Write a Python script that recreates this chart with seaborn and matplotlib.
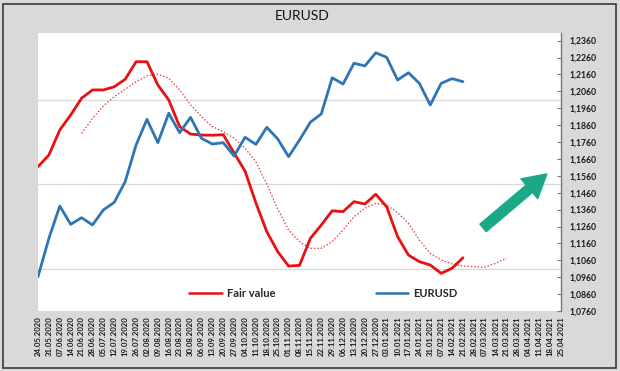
import numpy as np
import pandas as pd
import matplotlib
matplotlib.use("Agg")
import matplotlib.pyplot as plt
import seaborn as sns
from matplotlib.patches import Rectangle

dates = ["24.05.2020", "31.05.2020", "07.06.2020", "14.06.2020", "21.06.2020", "28.06.2020",
         "05.07.2020", "12.07.2020", "19.07.2020", "26.07.2020", "02.08.2020", "09.08.2020",
         "16.08.2020", "23.08.2020", "30.08.2020", "06.09.2020", "13.09.2020", "20.09.2020",
         "27.09.2020", "04.10.2020", "11.10.2020", "18.10.2020", "25.10.2020", "01.11.2020",
         "08.11.2020", "15.11.2020", "22.11.2020", "29.11.2020", "06.12.2020", "13.12.2020",
         "20.12.2020", "27.12.2020", "03.01.2021", "10.01.2021", "17.01.2021", "24.01.2021",
         "31.01.2021", "07.02.2021", "14.02.2021", "21.02.2021", "28.02.2021", "07.03.2021",
         "14.03.2021", "21.03.2021", "28.03.2021", "04.04.2021", "11.04.2021", "18.04.2021",
         "25.04.2021"]

fair_value = [1.1614, 1.1683, 1.1831, 1.1920, 1.2019, 1.2068, 1.2068, 1.2087, 1.2131, 1.2235,
              1.2235, 1.2097, 1.2009, 1.1851, 1.1807, 1.1801, 1.1800, 1.1803, 1.1695, 1.1588,
              1.1399, 1.1229, 1.1111, 1.1026, 1.1030, 1.1190, 1.1269, 1.1353, 1.1348, 1.1407,
              1.1393, 1.1451, 1.1377, 1.1200, 1.1091, 1.1052, 1.1032, 1.0983, 1.1013, 1.1075]

eurusd = [1.0963, 1.1190, 1.1381, 1.1273, 1.1312, 1.1269, 1.1358, 1.1403, 1.1525, 1.1742,
          1.1894, 1.1756, 1.1930, 1.1815, 1.1906, 1.1782, 1.1748, 1.1756, 1.1677, 1.1788,
          1.1746, 1.1847, 1.1778, 1.1673, 1.1772, 1.1877, 1.1926, 1.2140, 1.2103, 1.2226,
          1.2210, 1.2288, 1.2261, 1.2127, 1.2170, 1.2107, 1.1979, 1.2107, 1.2135, 1.2117]

fair_value_trend = [np.nan, np.nan, np.nan, np.nan,
                    1.1811, 1.1900, 1.1973, 1.2028, 1.2072, 1.2117, 1.2151, 1.2161, 1.2137,
                    1.2068, 1.1979, 1.1910, 1.1851, 1.1821, 1.1782, 1.1723, 1.1642, 1.1511,
                    1.1364, 1.1239, 1.1170, 1.1131, 1.1131, 1.1170, 1.1239, 1.1318, 1.1368,
                    1.1397, 1.1387, 1.1342, 1.1279, 1.1180, 1.1101, 1.1062, 1.1038, 1.1026,
                    1.1022, 1.1019, 1.1042, 1.1072]

y_ticks = [1.0760, 1.0860, 1.0960, 1.1060, 1.1160, 1.1260, 1.1360, 1.1460, 1.1560,
           1.1660, 1.1760, 1.1860, 1.1960, 1.2060, 1.2160, 1.2260, 1.2360]

sns.set_theme(style="white")
plt.rcParams['font.family'] = ['Lato', 'DejaVu Sans']

BG = '#d9d9d9'
fig = plt.figure(figsize=(6.2, 3.71), dpi=100, facecolor=BG)
ax = fig.add_axes([38 / 620, 60 / 371, (561 - 38) / 620, (311 - 33) / 371])
ax.set_facecolor('white')

df_fv = pd.DataFrame({'x': np.arange(len(fair_value)), 'y': fair_value})
df_eu = pd.DataFrame({'x': np.arange(len(eurusd)), 'y': eurusd})
df_tr = pd.DataFrame({'x': np.arange(len(fair_value_trend)), 'y': fair_value_trend}).dropna()

sns.lineplot(data=df_tr, x='x', y='y', ax=ax, color='#d9413c', linewidth=0.9,
             linestyle=(0, (1.2, 1.5)), estimator=None)
sns.lineplot(data=df_fv, x='x', y='y', ax=ax, color='#e81010', linewidth=2.0,
             estimator=None, label='Fair value')
sns.lineplot(data=df_eu, x='x', y='y', ax=ax, color='#2e75b6', linewidth=2.0,
             estimator=None, label='EURUSD')

ax.set_xlim(0, len(dates) - 1)
ax.set_ylim(1.0760, 1.2405)
ax.set_xlabel('')
ax.set_ylabel('')

ax.set_xticks(np.arange(len(dates)))
ax.set_xticklabels(dates, rotation=90, fontsize=5.6, fontweight='bold', color='#1a1a1a')
ax.tick_params(axis='x', length=0, pad=4)

ax.yaxis.tick_right()
ax.set_yticks(y_ticks)
ax.set_yticklabels([f"{v:.4f}".replace('.', ',') for v in y_ticks],
                   fontsize=6.2, fontweight='bold', color='#1a1a1a')
ax.tick_params(axis='y', which='major', direction='in', length=3, width=0.8,
               color='#8a6d6d', pad=6, right=True, left=False)

grid_levels = np.arange(1.1010, 1.2400, 0.0250)
ax.set_yticks(grid_levels, minor=True)
ax.tick_params(axis='y', which='minor', length=0)
ax.grid(False)
ax.grid(True, which='minor', axis='y', color='#d9d9d9', linewidth=0.9)

for s in ['top', 'left', 'bottom']:
    ax.spines[s].set_visible(False)
ax.spines['right'].set_color('#8a6d6d')
ax.spines['right'].set_linewidth(1.0)

leg = ax.legend(loc='center', bbox_to_anchor=(0.546, 0.064), ncol=2, frameon=False,
                handlelength=2.9, columnspacing=9.0, handletextpad=0.5,
                prop={'family': 'Lato', 'weight': 'bold', 'size': 8})
for line in leg.get_lines():
    line.set_linewidth(1.8)

ax.annotate('', xy=(0.973, 0.493), xytext=(0.851, 0.299), xycoords='axes fraction',
            textcoords='axes fraction',
            arrowprops=dict(arrowstyle='simple,head_length=0.75,head_width=0.85,tail_width=0.32',
                            color='#1aa889', mutation_scale=22, shrinkA=0, shrinkB=0,
                            capstyle='round', joinstyle='round'))

fig.text(302 / 620, 1 - 16 / 371, 'EURUSD', ha='center', va='center', fontsize=10,
         color='#111111')

fig.patches.append(Rectangle((3 / 620, 3 / 371), 613 / 620, 364 / 371, transform=fig.transFigure,
                             fill=False, edgecolor='#3a3a3a', linewidth=1.2))

fig.savefig('out.png', dpi=100, facecolor=BG)
